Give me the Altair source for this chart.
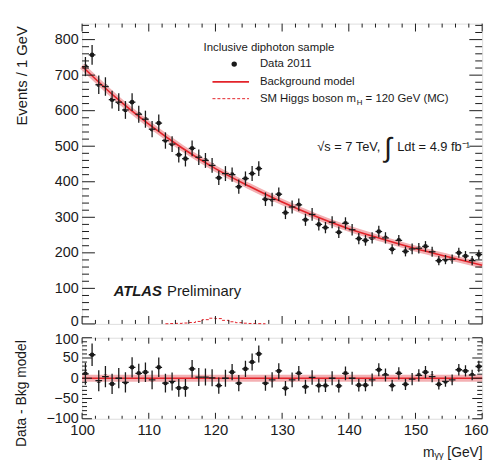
import altair as alt
import pandas as pd

# ---------------- data ----------------
mass = [100.5 + i for i in range(60)]  # 1 GeV bin centres, 100-160 GeV
events = [724, 757, 673, 668, 631, 624, 602, 624, 590, 576,
          548, 565, 516, 506, 476, 465, 494, 469, 460, 446,
          411, 423, 420, 386, 409, 423, 437, 351, 350, 365,
          313, 329, 335, 293, 308, 280, 271, 286, 258, 283,
          265, 240, 235, 242, 260, 242, 210, 235, 204, 211,
          213, 218, 203, 178, 181, 182, 200, 191, 178, 195]
errors = [27, 28, 26, 26, 25, 25, 25, 25, 24, 24,
          23, 24, 23, 22, 22, 22, 22, 22, 21, 21,
          20, 21, 20, 20, 20, 21, 21, 19, 19, 19,
          18, 18, 18, 17, 18, 17, 16, 17, 16, 17,
          16, 16, 15, 16, 16, 16, 14, 15, 14, 15,
          15, 15, 14, 13, 13, 13, 14, 14, 13, 14]
residuals = [11, 58, -6, 4, -14, 0, -10, 27, 12, 15,
             -4, 27, -12, -8, -24, -24, 23, 3, 3, 1,
             -18, 0, 15, -12, 23, 40, 60, -12, -4, 18,
             -25, -4, 12, -21, 2, -18, -18, 0, -19, 12,
             0, -17, -17, -4, 21, 8, -18, 12, -15, -2,
             7, 15, 4, -15, -8, -4, 21, 18, 8, 29]

bkg_mass = [100, 105, 110, 115, 120, 125, 130, 135, 140, 145, 150, 155, 160]
bkg_events = [725, 638, 562, 495, 437, 388, 343, 303, 268, 239, 212, 188, 165]

sig_mass = [112.5, 113.5, 114.5, 115.5, 116.5, 117.5, 118.5, 119.5,
            120.5, 121.5, 122.5, 123.5, 124.5, 125.5, 126.5, 127.5]
sig_events = [0.5, 1, 1.5, 2.5, 4, 7, 12, 16, 15, 10, 6, 3.5, 2, 1.2, 0.8, 0.5]

x_major = [100, 110, 120, 130, 140, 150, 160]
x_minor = [v for v in range(102, 160, 2) if v % 10 != 0]
y_major = [0, 100, 200, 300, 400, 500, 600, 700, 800]
y_minor = [v for v in range(20, 845, 20) if v % 100 != 0]
r_major = [-100, -50, 0, 50, 100]
r_minor = [v for v in range(-90, 100, 10) if v % 50 != 0]

# ---------------- layout / style ----------------
W, H1, H2 = 405, 304, 82
FONT = "Liberation Sans"
RED = "#e3232a"
PINK = "#f3b0b3"
INK = "#1a1a1a"

df = pd.DataFrame({"mass": mass, "events": events, "err": errors, "res": residuals})
df["lo"] = df["events"] - df["err"]
df["hi"] = df["events"] + df["err"]
df["rlo"] = df["res"] - df["err"]
df["rhi"] = df["res"] + df["err"]
df["xl"] = df["mass"] - 0.5
df["xr"] = df["mass"] + 0.5
bkg = pd.DataFrame({"mass": bkg_mass, "events": bkg_events})
sig = pd.DataFrame({"mass": sig_mass, "events": sig_events})
one = pd.DataFrame({"a": [0]})

xs = alt.Scale(domain=[100, 160], nice=False, zero=False)
ys = alt.Scale(domain=[0, 845], nice=False, zero=False)
rs = alt.Scale(domain=[-100, 100], nice=False, zero=False)

common = dict(ticks=False, domain=False, grid=False, labelColor=INK,
              labelPadding=4, labelFont=FONT, labelOverlap=False,
              titleFontWeight="normal", titleColor=INK, titleFont=FONT)

y_axis_top = alt.Axis(
    values=y_major, title="Events / 1 GeV", titleAngle=270, labelFontSize=14.5,
    labelOffset={"condition": {"test": "datum.value == 0", "value": -2}, "value": 0},
    titleFontSize=15, titleAlign="right", titleBaseline="middle",
    titleX=-61, titleY=2, **common)
y_axis_bot = alt.Axis(
    values=r_major, title="Data - Bkg model", titleAngle=270, labelFontSize=14.5,
    labelOffset={"condition": {"test": "datum.value == 100", "value": 2}, "value": 0},
    titleFontSize=14, titleAlign="right", titleBaseline="middle",
    titleX=-61, titleY=2, **common)
x_axis_bot = alt.Axis(
    values=x_major, labelFlush=False, title="m\u1d67\u1d67 [GeV]", labelFontSize=15,
    labelAlign={"condition": {"test": "datum.value == 160", "value": "right"}, "value": "center"},
    labelOffset={"condition": {"test": "datum.value == 160", "value": 6}, "value": 0},
    titleFontSize=14, titleAlign="right", titleBaseline="middle",
    titleX=W, titleY=34, **common)


def X(field, axis):
    return alt.X(field, scale=xs, axis=axis)


def yticks(values, scale, axis, length):
    d = pd.DataFrame({"v": values})
    left = alt.Chart(d).mark_rule(color=INK, strokeWidth=1).encode(
        y=alt.Y("v:Q", scale=scale, axis=axis), x=alt.value(0), x2=alt.value(length))
    right = alt.Chart(d).mark_rule(color=INK, strokeWidth=1).encode(
        y=alt.Y("v:Q", scale=scale, axis=axis), x=alt.value(W), x2=alt.value(W - length))
    return [left, right]


def xticks(values, xaxis, length, height):
    d = pd.DataFrame({"v": values})
    bottom = alt.Chart(d).mark_rule(color=INK, strokeWidth=1).encode(
        x=X("v:Q", xaxis), y=alt.value(height), y2=alt.value(height - length))
    top = alt.Chart(d).mark_rule(color=INK, strokeWidth=1).encode(
        x=X("v:Q", xaxis), y=alt.value(0), y2=alt.value(length))
    return [bottom, top]


def label(text, x, y, size=11.5, align="left", weight="normal", style="normal"):
    return alt.Chart(one).mark_text(
        align=align, baseline="middle", fontSize=size, fontWeight=weight,
        fontStyle=style, color=INK, font=FONT
    ).encode(x=alt.value(x), y=alt.value(y), text=alt.value(text))


# ---------------- top panel ----------------
YA = y_axis_top
bkg_band = alt.Chart(bkg).mark_line(color=PINK, strokeWidth=6, interpolate="monotone").encode(
    x=X("mass:Q", None), y=alt.Y("events:Q", scale=ys, axis=YA))
bkg_line = alt.Chart(bkg).mark_line(color=RED, strokeWidth=1.6, interpolate="monotone").encode(
    x=X("mass:Q", None), y=alt.Y("events:Q", scale=ys, axis=YA))
sig_line = alt.Chart(sig).mark_line(color=RED, strokeWidth=1, strokeDash=[3, 2],
                                    interpolate="step").encode(
    x=X("mass:Q", None), y=alt.Y("events:Q", scale=ys, axis=YA))
vbars = alt.Chart(df).mark_rule(color=INK, strokeWidth=1.3).encode(
    x=X("mass:Q", None), y=alt.Y("lo:Q", scale=ys, axis=YA), y2="hi:Q")
hbars = alt.Chart(df).mark_rule(color=INK, strokeWidth=1.3).encode(
    x=X("xl:Q", None), x2="xr:Q", y=alt.Y("events:Q", scale=ys, axis=YA))
pts = alt.Chart(df).mark_circle(color=INK, size=22, opacity=1).encode(
    x=X("mass:Q", None), y=alt.Y("events:Q", scale=ys, axis=YA))

legend_layers = [
    label("Inclusive diphoton sample", 123, 25),
    alt.Chart(one).mark_circle(color=INK, size=30, opacity=1).encode(
        x=alt.value(154), y=alt.value(41)),
    label("Data 2011", 180, 41),
    alt.Chart(one).mark_rule(color=RED, strokeWidth=1.6).encode(
        x=alt.value(132), x2=alt.value(169), y=alt.value(59)),
    label("Background model", 180, 59),
    alt.Chart(one).mark_rule(color=RED, strokeWidth=1, strokeDash=[3, 2]).encode(
        x=alt.value(132), x2=alt.value(169), y=alt.value(76)),
    label("SM Higgs boson m", 180, 76),
    label("H", 278, 80, size=8),
    label("= 120 GeV (MC)", 287, 76),
    label("\u221as = 7 TeV,", 238, 125, size=13),
    label("\u222b", 306, 127, size=28),
    label("Ldt = 4.9 fb\u207b\u00b9", 319, 125, size=13),
    label("ATLAS", 32, 271, size=15, weight="bold", style="italic"),
    label("Preliminary", 86, 271, size=15),
]

top = alt.layer(
    pts, bkg_band, bkg_line, sig_line, vbars, hbars,
    *yticks(y_major, ys, YA, 13), *yticks(y_minor, ys, YA, 7),
    *xticks(x_major, None, 8, H1), *xticks(x_minor, None, 4, H1),
    *legend_layers,
).properties(width=W, height=H1)

# ---------------- bottom panel ----------------
RA, XA = y_axis_bot, x_axis_bot
zero = pd.DataFrame({"v": [0]})
zero_band = alt.Chart(zero).mark_rule(color=PINK, strokeWidth=7).encode(
    y=alt.Y("v:Q", scale=rs, axis=RA), x=alt.value(0), x2=alt.value(W))
zero_line = alt.Chart(zero).mark_rule(color=RED, strokeWidth=1.6).encode(
    y=alt.Y("v:Q", scale=rs, axis=RA), x=alt.value(0), x2=alt.value(W))
rv = alt.Chart(df).mark_rule(color=INK, strokeWidth=1.3, clip=True).encode(
    x=X("mass:Q", XA), y=alt.Y("rlo:Q", scale=rs, axis=RA), y2="rhi:Q")
rh = alt.Chart(df).mark_rule(color=INK, strokeWidth=1.3, clip=True).encode(
    x=X("xl:Q", XA), x2="xr:Q", y=alt.Y("res:Q", scale=rs, axis=RA))
rp = alt.Chart(df).mark_circle(color=INK, size=22, opacity=1, clip=True).encode(
    x=X("mass:Q", XA), y=alt.Y("res:Q", scale=rs, axis=RA))

bottom = alt.layer(
    rp, zero_band, zero_line, rv, rh,
    *yticks(r_major, rs, RA, 10), *yticks(r_minor, rs, RA, 5),
    *xticks(x_major, XA, 6, H2), *xticks(x_minor, XA, 3, H2),
).properties(width=W, height=H2)

chart = alt.vconcat(top, bottom, spacing=14, bounds="flush").properties(
    padding={"left": 6, "top": 12, "right": 0, "bottom": 0},
    background="white",
).configure_view(stroke=INK, strokeWidth=1).configure(font=FONT)

chart.save("out.html", embed_options={"renderer": "svg", "actions": False})
